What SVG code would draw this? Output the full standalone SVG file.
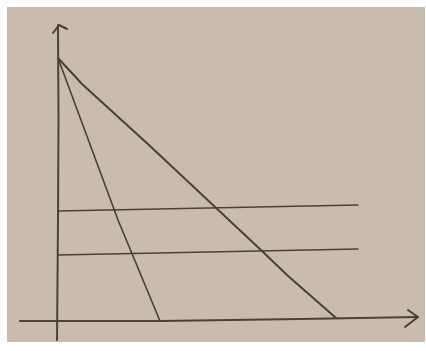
<svg xmlns="http://www.w3.org/2000/svg" width="426" height="351" viewBox="0 0 426 351">
<style>
.ln{fill:none;stroke:#4a4038;stroke-width:2;stroke-linecap:round;stroke-linejoin:round}
.thin{stroke-width:1.6}
</style>
<rect x="0" y="0" width="426" height="351" fill="#ffffff"/>
<rect x="7" y="7" width="418" height="335" fill="#c9bcae"/>
<g id="axes">
<path class="ln" d="M58 25 L58.5 120 L58 220 L57 340"/>
<path class="ln" d="M53 33 L59 25 L67 29"/>
<path class="ln" d="M20 321 L160 321 L300 319 L418 317"/>
<path class="ln" d="M408 310 L418 317 L405 327"/>
</g>
<g id="lines">
<path class="ln thin" d="M58 58 L118 220 L160 321"/>
<path class="ln" d="M58 58 L82 84 L150 146 L214 206 L262 251 L287 275 L336 318"/>
<path class="ln thin" d="M58 211 L358 205"/>
<path class="ln thin" d="M58 255 L358 249"/>
</g>
</svg>
